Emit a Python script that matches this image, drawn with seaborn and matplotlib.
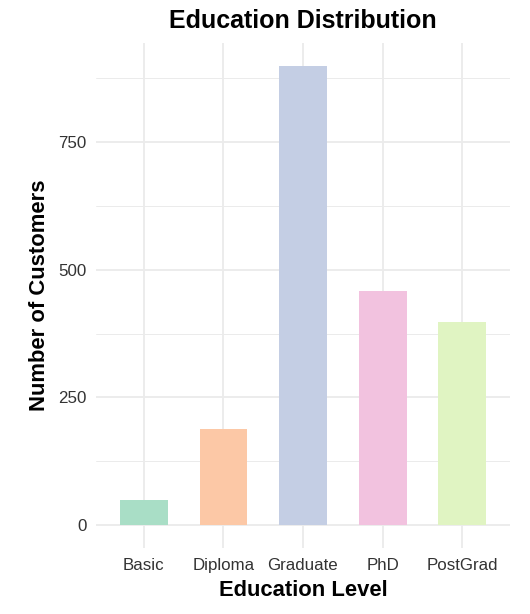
"""
Education distribution - bar chart
"""

import pandas as pd
import matplotlib
matplotlib.use('Agg')
import matplotlib.pyplot as plt
from matplotlib.ticker import MultipleLocator
import seaborn as sns

# Dados
education = ['Basic', 'Diploma', 'Graduate', 'PhD', 'PostGrad']
customers = [49, 188, 899, 459, 398]
yticks = [0, 250, 500, 750]
colors = ['#A9DEC6', '#FCC8A6', '#C4CEE4', '#F2C2DF', '#E0F4C2']

df = pd.DataFrame({'Education': education, 'Customers': customers})

sns.set_theme(style='whitegrid')
plt.rcParams['font.family'] = ['Liberation Sans', 'DejaVu Sans']

fig = plt.figure(figsize=(5.3, 6.14), dpi=100)
ax = fig.add_axes([96 / 530, 1 - 548 / 614, 414 / 530, 505 / 614])

sns.barplot(data=df, x='Education', y='Customers', hue='Education',
            palette=colors, width=0.6, legend=False, ax=ax,
            saturation=1, linewidth=0, zorder=3)

# Escalas tipo ggplot (expansao de 5% / 0.6)
ymax = max(customers)
ax.set_ylim(-0.05 * ymax, ymax * 1.05)
ax.set_xlim(-0.6, len(education) - 0.4)
ax.set_yticks(yticks)
ax.yaxis.set_minor_locator(MultipleLocator(125))

ax.set_facecolor('white')
for s in ax.spines.values():
    s.set_visible(False)
ax.grid(True, which='major', color='#EBEBEB', linewidth=1.3, zorder=0)
ax.grid(True, which='minor', axis='y', color='#EBEBEB', linewidth=0.7, zorder=0)
ax.set_axisbelow(True)
ax.tick_params(axis='both', which='both', length=0, labelsize=12.2,
               labelcolor='#333333')
ax.tick_params(axis='x', pad=7)
ax.tick_params(axis='y', pad=7)

ax.set_title('Education Distribution', fontsize=18, fontweight='bold',
             pad=11, color='black')
ax.set_xlabel('Education Level', fontsize=15.8, fontweight='bold',
              labelpad=5, color='black')
ax.set_ylabel('Number of Customers', fontsize=15.8, fontweight='bold',
              labelpad=6, color='black')

fig.savefig('out.png', dpi=100, facecolor='white')
